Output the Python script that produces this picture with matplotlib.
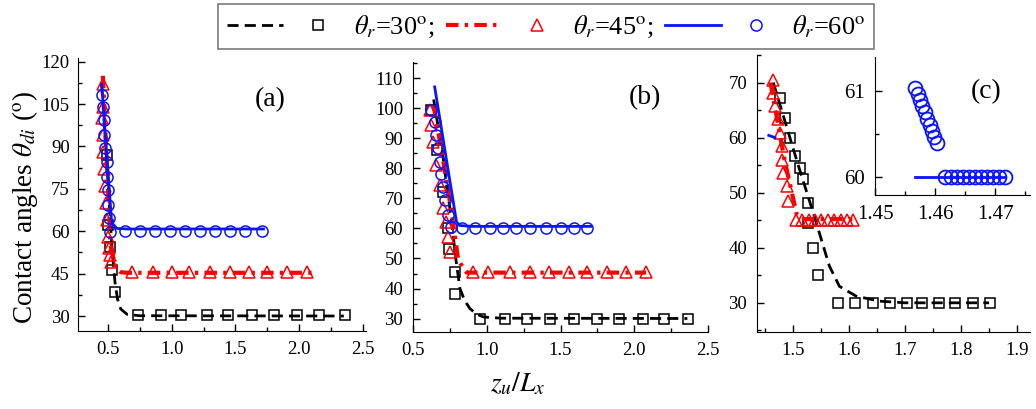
import matplotlib.pyplot as plt
from matplotlib.lines import Line2D
from matplotlib.legend_handler import HandlerTuple
from matplotlib.ticker import MultipleLocator

plt.rcParams['font.family'] = ['Liberation Serif', 'DejaVu Serif']
plt.rcParams['mathtext.fontset'] = 'stix'

# ---- panel (a) ----
a30_line_x = [0.45, 0.48, 0.51, 0.535, 0.555, 0.575, 0.60, 0.65, 0.75, 2.35]
a30_line_y = [112, 92, 70, 52, 42, 36, 32.5, 30.6, 30.1, 30.0]
a30_pts_x = [0.49, 0.503, 0.516, 0.529, 0.555, 0.735, 0.915, 1.07, 1.274, 1.444, 1.627, 1.80, 1.985, 2.155, 2.36]
a30_pts_y = [87, 62.2, 54.5, 46.3, 38.4, 30.2, 30.2, 30.2, 30.2, 30.2, 30.2, 30.2, 30.2, 30.2, 30.2]
a45_line_x = [0.46, 0.49, 0.52, 0.56, 0.60, 0.65, 2.10]
a45_line_y = [115, 85, 55, 47, 45.5, 45.3, 45.3]
a45_pts_x = [0.462, 0.458, 0.455, 0.458, 0.465, 0.47, 0.478, 0.485, 0.492, 0.50, 0.508, 0.516, 0.52,
             0.69, 0.85, 1.0, 1.135, 1.30, 1.457, 1.607, 1.75, 1.907, 2.065]
a45_pts_y = [112, 104, 100, 94, 88, 82, 76, 70, 64, 58, 54, 51.5, 49,
             45.5, 45.5, 45.5, 45.5, 45.5, 45.5, 45.5, 45.5, 45.5, 45.5]
a60_line_x = [0.451, 0.529, 0.57, 0.65, 1.72]
a60_line_y = [112, 63, 61, 60.8, 60.8]
a60_pts_x = [0.451, 0.463, 0.469, 0.469, 0.476, 0.49, 0.495, 0.503, 0.503, 0.511, 0.516,
             0.633, 0.751, 0.869, 0.986, 1.104, 1.22, 1.34, 1.457, 1.574, 1.705]
a60_pts_y = [108.2, 104.1, 99.4, 94.0, 89.3, 84.6, 79.3, 74.6, 69.3, 64.6, 59.8,
             60, 60, 60, 60, 60, 60, 60, 60, 60, 60]

# ---- panel (b) ----
b30_line_x = [0.64, 0.70, 0.76, 0.79, 0.818, 0.85, 0.886, 0.93, 0.977, 1.1, 2.36]
b30_line_y = [103, 85, 63, 50, 40, 36, 33.3, 31.5, 30.5, 30.1, 30.0]
b30_pts_x = [0.625, 0.66, 0.70, 0.739, 0.746, 0.784, 0.784, 0.954, 1.125, 1.273, 1.431, 1.59, 1.75, 1.897, 2.056, 2.204, 2.363]
b30_pts_y = [99.4, 86, 72, 60, 53.3, 45.5, 38.3, 30, 30, 30, 30, 30, 30, 30, 30, 30, 30]
b45_line_x = [0.64, 0.70, 0.76, 0.807, 0.864, 2.08]
b45_line_y = [101, 84, 66, 49.4, 45.3, 45.3]
b45_pts_x = [0.614, 0.625, 0.636, 0.659, 0.682, 0.704, 0.727, 0.739, 0.75,
             0.909, 1.011, 1.159, 1.295, 1.42, 1.556, 1.68, 1.818, 1.943, 2.079]
b45_pts_y = [99.4, 94.4, 88.9, 81.1, 74.4, 66.7, 62.2, 57.2, 52.2,
             45.5, 45.5, 45.5, 45.5, 45.5, 45.5, 45.5, 45.5, 45.5, 45.5]
b60_line_x = [0.647, 0.795, 0.818, 0.9, 1.704]
b60_line_y = [107.2, 62.2, 61.0, 60.7, 60.7]
b60_pts_x = [0.625, 0.648, 0.659, 0.67, 0.682, 0.693, 0.704, 0.716, 0.738, 0.761,
             0.83, 0.92, 1.02, 1.11, 1.20, 1.295, 1.40, 1.50, 1.59, 1.68]
b60_pts_y = [99.4, 95.5, 91.1, 86.7, 82.2, 78.3, 73.9, 69.4, 64.4, 60.5,
             60, 60, 60, 60, 60, 60, 60, 60, 60, 60]

# ---- panel (c) ----
c30_line_x = [1.465, 1.508, 1.538, 1.565, 1.583, 1.613, 1.655, 1.70, 1.85]
c30_line_y = [70, 55.5, 45.8, 36.7, 33, 31.2, 30.3, 30.0, 30.0]
c30_pts_x = [1.477, 1.486, 1.495, 1.504, 1.513, 1.518, 1.527, 1.527, 1.536, 1.545,
             1.581, 1.611, 1.643, 1.673, 1.703, 1.730, 1.760, 1.789, 1.822, 1.852]
c30_pts_y = [67.2, 63.6, 59.9, 56.6, 54.5, 52.4, 48.1, 44.5, 39.9, 35.1,
             30, 30, 30, 30, 30, 30, 30, 30, 30, 30]
c45_line_x = [1.460, 1.485, 1.507, 1.515, 1.611]
c45_line_y = [70, 56, 46, 45.2, 45.2]
c45_pts_x = [1.465, 1.465, 1.468, 1.474, 1.477, 1.480, 1.480, 1.483, 1.489, 1.492,
             1.505, 1.517, 1.528, 1.540, 1.551, 1.563, 1.574, 1.586, 1.597, 1.607]
c45_pts_y = [70.5, 68.1, 65.7, 63.3, 60.9, 58.5, 56.0, 53.6, 51.2, 48.5,
             45, 45, 45, 45, 45, 45, 45, 45, 45, 45]
c60_line_x = [1.457, 1.468]
c60_line_y = [60.4, 60.0]

# ---- inset of (c) ----
i60_line_x = [1.4567, 1.4717]
i60_line_y = [60.0, 60.0]
i60_pts_x = [1.4567, 1.4571, 1.4575, 1.4579, 1.4583, 1.4587, 1.4591, 1.4595, 1.4599, 1.4603,
             1.4617, 1.4627, 1.4637, 1.4647, 1.4657, 1.4667, 1.4677, 1.4687, 1.4697, 1.4707, 1.4717]
i60_pts_y = [61.04, 60.97, 60.90, 60.83, 60.76, 60.68, 60.61, 60.54, 60.47, 60.40,
             60, 60, 60, 60, 60, 60, 60, 60, 60, 60, 60]

labels = [r'$\theta_r$=30$^{\rm o}$;', r'$\theta_r$=45$^{\rm o}$;', r'$\theta_r$=60$^{\rm o}$']

W, H = 1036, 409
fig = plt.figure(figsize=(W / 100, H / 100), dpi=100)


def box(l, t, r, b):
    return [l / W, 1 - b / H, (r - l) / W, (b - t) / H]


s30 = dict(color='black', ls=(0, (4, 2.2)), lw=2)
s45 = dict(color='red', ls=(0, (3, 1.5, 0.8, 1.5)), lw=3)
s60 = dict(color='#0a14ff', ls='-', lw=2)
m30 = dict(ls='none', marker='s', mfc='none', mec='black', ms=7, mew=1.1)
m45 = dict(ls='none', marker='^', mfc='none', mec='red', ms=9, mew=1.1)
m60 = dict(ls='none', marker='o', mfc='none', mec='#0a14ff', ms=8, mew=1.1)


def style(ax, xmaj, xmin, ymaj, ymin, fs=13.5):
    for s in ['top', 'right']:
        ax.spines[s].set_visible(False)
    ax.xaxis.set_major_locator(MultipleLocator(xmaj))
    ax.xaxis.set_minor_locator(MultipleLocator(xmin))
    ax.yaxis.set_major_locator(MultipleLocator(ymaj))
    ax.yaxis.set_minor_locator(MultipleLocator(ymin))
    ax.tick_params(which='both', direction='in', labelsize=fs, width=1, pad=7)
    ax.tick_params(which='major', length=5)
    ax.tick_params(which='minor', length=3)


# (a)
axa = fig.add_axes(box(78, 58, 366, 331))
axa.plot(a30_line_x, a30_line_y, **s30)
axa.plot(a30_pts_x, a30_pts_y, **m30)
axa.plot(a45_line_x, a45_line_y, **s45)
axa.plot(a45_pts_x, a45_pts_y, **m45)
axa.plot(a60_line_x, a60_line_y, **s60)
axa.plot(a60_pts_x, a60_pts_y, **m60)
axa.set_xlim(0.265, 2.524)
axa.set_ylim(24.7, 121.3)
style(axa, 0.5, 0.25, 15, 7.5)
axa.tick_params(axis='y', pad=6)
axa.text(0.667, 0.846, '(a)', transform=axa.transAxes, fontsize=20, ha='center', va='center')

# (b)
axb = fig.add_axes(box(413, 62, 708, 332))
axb.plot(b30_line_x, b30_line_y, **s30)
axb.plot(b30_pts_x, b30_pts_y, **m30)
axb.plot(b45_line_x, b45_line_y, **s45)
axb.plot(b45_pts_x, b45_pts_y, **m45)
axb.plot(b60_line_x, b60_line_y, **s60)
axb.plot(b60_pts_x, b60_pts_y, **m60)
axb.set_xlim(0.5, 2.5)
axb.set_ylim(25.5, 115.5)
style(axb, 0.5, 0.25, 10, 5)
axb.text(0.786, 0.869, '(b)', transform=axb.transAxes, fontsize=20, ha='center', va='center')

# (c)
axc = fig.add_axes(box(757, 55, 1030, 332))
axc.plot(c30_line_x, c30_line_y, **s30)
axc.plot(c30_pts_x, c30_pts_y, **m30)
axc.plot(c45_line_x, c45_line_y, **s45)
axc.plot(c45_pts_x, c45_pts_y, **m45)
axc.plot(c60_line_x, c60_line_y, **s60)
axc.set_xlim(1.436, 1.923)
axc.set_ylim(24.7, 75)
style(axc, 0.1, 0.05, 10, 5)

# inset
axi = fig.add_axes(box(875, 57, 1030, 195))
axi.patch.set_alpha(0)
axi.plot(i60_line_x, i60_line_y, **s60)
axi.plot(i60_pts_x, i60_pts_y, ls='none', marker='o', mfc='none', mec='#0a14ff', ms=10, mew=1.3)
axi.set_xlim(1.45, 1.4758)
axi.set_ylim(59.79, 61.4)
style(axi, 0.01, 0.005, 1, 0.5, fs=15)
axi.text(0.72, 0.75, '(c)', transform=axi.transAxes, fontsize=20, ha='center', va='center')

fig.text(25 / W, 1 - 208 / H, r'Contact angles $\theta_{di}$ ($^{\rm o}$)', fontsize=19.5,
         rotation=90, ha='center', va='center')
fig.text(518 / W, 1 - 384 / H, r'$z_u/L_x$', fontsize=20, ha='center', va='center')

# legend
h30 = (Line2D([], [], **s30), Line2D([], [], **m30))
h45 = (Line2D([], [], **s45), Line2D([], [], **m45))
h60 = (Line2D([], [], **s60), Line2D([], [], **m60))
leg = fig.legend([h30, h45, h60], labels, ncol=3, loc='center',
                 bbox_to_anchor=(546 / W, 1 - 26.5 / H),
                 handler_map={tuple: HandlerTuple(ndivide=None, pad=0.25)},
                 handlelength=4.5, handletextpad=0.3, columnspacing=0.45,
                 fontsize=19, frameon=True, fancybox=False, borderpad=0.35,
                 borderaxespad=0)
leg.get_frame().set_edgecolor('0.35')
leg.get_frame().set_linewidth(1.2)

fig.savefig('out.png', dpi=100)
